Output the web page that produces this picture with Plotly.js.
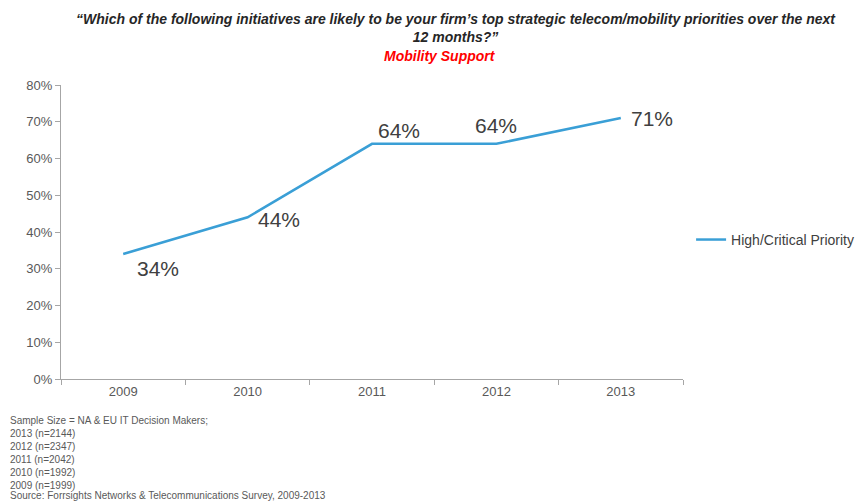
<!DOCTYPE html>
<html>
<head>
<meta charset="utf-8">
<script src="https://cdn.plot.ly/plotly-3.0.1.min.js"></script>
<style>
html,body{margin:0;padding:0;background:#fff;}
#chart{width:855px;height:502px;}
</style>
</head>
<body>
<div id="chart"></div>
<script>
const years = ['2009', '2010', '2011', '2012', '2013'];
const highCritical = [34, 44, 64, 64, 71];
const valueLabels = ['34%', '44%', '64%', '64%', '71%'];
const seriesName = 'High/Critical Priority';
const yTickVals = [0, 10, 20, 30, 40, 50, 60, 70, 80];
const yTickText = ['0%', '10%', '20%', '30%', '40%', '50%', '60%', '70%', '80%'];
const titleLines = [
  '\u201cWhich of the following initiatives are likely to be your firm\u2019s top strategic telecom/mobility priorities over the next',
  '12 months?\u201d'
];
const subTitle = 'Mobility Support';
const footnoteLines = [
  'Sample Size = NA & EU IT Decision Makers;',
  '2013 (n=2144)',
  '2012 (n=2347)',
  '2011 (n=2042)',
  '2010 (n=1992)',
  '2009 (n=1999)'
];
const sourceLine = 'Source: Forrsights Networks & Telecommunications Survey, 2009-2013';

// label offsets (pixels) relative to each point: [right, down]
const labelOffsets = [[35, 14], [31, 2], [27, -13], [0, -18], [31, 0]];

const FONT = 'Arial, Liberation Sans, sans-serif';
const annotations = [];
years.forEach((y, i) => {
  annotations.push({
    x: i, y: highCritical[i], xref: 'x', yref: 'y',
    text: valueLabels[i], showarrow: false,
    xshift: labelOffsets[i][0], yshift: -labelOffsets[i][1],
    font: {family: FONT, size: 21, color: '#404040'}
  });
});
annotations.push({
  xref: 'paper', yref: 'paper', x: 0.635, y: 1, yanchor: 'top', xanchor: 'center',
  yshift: 76, showarrow: false, align: 'center',
  text: '<b><i>' + titleLines.join('<br>') + '</i></b>',
  font: {family: FONT, size: 14, color: '#262626'}
});
annotations.push({
  xref: 'paper', yref: 'paper', x: 0.61, y: 1, yanchor: 'top', xanchor: 'center',
  yshift: 39, showarrow: false,
  text: '<b><i>' + subTitle + '</i></b>',
  font: {family: FONT, size: 14, color: '#ff0000'}
});
annotations.push({
  xref: 'paper', yref: 'paper', x: -0.086, y: 0, xanchor: 'left', yanchor: 'top',
  yshift: -34, showarrow: false, align: 'left',
  text: footnoteLines.join('<br>'),
  font: {family: FONT, size: 10, color: '#595959'}
});
annotations.push({
  xref: 'paper', yref: 'paper', x: -0.086, y: 0, xanchor: 'left', yanchor: 'bottom',
  yshift: -124, showarrow: false, align: 'left',
  text: sourceLine,
  font: {family: FONT, size: 10, color: '#595959'}
});

const trace = {
  x: years, y: highCritical, type: 'scatter', mode: 'lines', name: seriesName,
  line: {color: '#3a9fd6', width: 2.5}
};

const layout = {
  width: 855, height: 502,
  margin: {l: 61, r: 172, t: 85, b: 123, autoexpand: false},
  paper_bgcolor: '#ffffff', plot_bgcolor: '#ffffff',
  showlegend: true,
  legend: {x: 1.013, y: 0.473, xanchor: 'left', yanchor: 'middle',
    font: {family: FONT, size: 14, color: '#404040'},
    itemwidth: 30, bgcolor: 'rgba(0,0,0,0)'},
  xaxis: {
    type: 'category', categoryarray: years, categoryorder: 'array',
    range: [-0.5, years.length - 0.5],
    tickson: 'boundaries', ticks: 'outside', ticklen: 5,
    tickcolor: '#a6a6a6', showline: true, linecolor: '#a6a6a6', linewidth: 1,
    showgrid: false, zeroline: false,
    tickfont: {family: FONT, size: 13, color: '#595959'}
  },
  yaxis: {
    range: [0, 80], tickvals: yTickVals, ticktext: yTickText,
    ticks: 'outside', ticklen: 5, tickcolor: '#a6a6a6',
    showline: true, linecolor: '#a6a6a6', linewidth: 1,
    showgrid: false, zeroline: false,
    tickfont: {family: FONT, size: 13, color: '#595959'}
  },
  annotations: annotations
};

Plotly.newPlot('chart', [trace], layout, {displayModeBar: false});
</script>
</body>
</html>
